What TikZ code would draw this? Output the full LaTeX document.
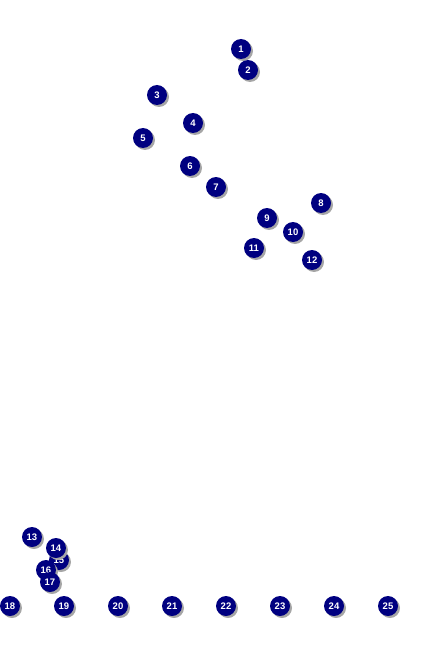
\documentclass[tikz,border=0pt]{standalone}
\usepackage{fontspec}
\setsansfont{Liberation Sans}
\usetikzlibrary{shadows}
\begin{document}
\begin{tikzpicture}[x=1pt, y=-1pt,
  marker/.style={circle, fill={rgb,255:red,0;green,0;blue,128}, inner sep=0pt,
    minimum size=20pt, text=white, font=\sffamily\bfseries\fontsize{9.5}{9.5}\selectfont,
    drop shadow={shadow xshift=2pt, shadow yshift=-2pt, fill=gray!70, opacity=1}}]
  % 画像の範囲
  \useasboundingbox (0,0) rectangle (435,650);

  % 番号付きの点
  \foreach \i/\px/\py in {1/241/49, 2/248/70, 3/157/95, 4/193/123, 5/143/138,
      6/190/166, 7/216/187, 8/321/203, 9/267/218, 10/293/232, 11/254/248,
      12/312/260, 13/32/537, 15/59/560, 14/56/548, 16/46/570, 17/50/582,
      18/10/606, 19/64/606, 20/118/606, 21/172/606, 22/226/606, 23/280/606,
      24/334/606, 25/388/606} {
    \node[marker] (n\i) at (\px,\py) {\i};
  }

\end{tikzpicture}
\end{document}
